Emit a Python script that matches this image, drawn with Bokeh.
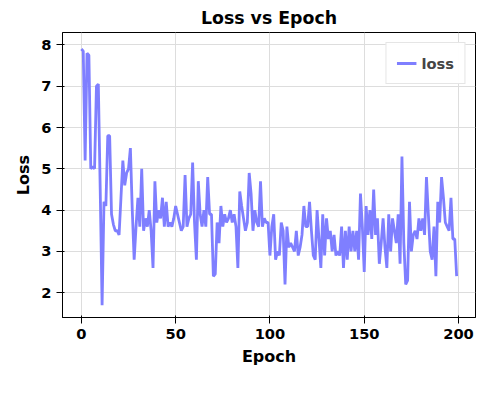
from bokeh.plotting import figure
from bokeh.embed import file_html
from bokeh.resources import INLINE
from bokeh.models import Legend, LegendItem

epochs = list(range(200))
loss = [7.9, 7.85, 5.2, 7.8, 7.75, 5.0, 5.05, 5.0, 7.0, 7.05, 4.5, 1.7, 4.2, 4.1, 5.8, 5.8, 3.9, 3.65, 3.5, 3.5,
        3.4, 4.3, 5.2, 4.6, 4.9, 5.0, 5.5, 4.0, 2.8, 3.6, 4.3, 3.6, 5.0, 3.5, 3.8, 3.6, 4.0, 3.5, 2.6, 4.7,
        3.7, 4.0, 3.8, 4.3, 3.6, 4.2, 3.6, 3.7, 3.6, 3.8, 4.1, 3.9, 3.7, 3.5, 3.6, 4.85, 3.6, 3.8, 3.9, 5.15,
        3.7, 2.8, 4.7, 3.9, 3.6, 4.0, 3.6, 4.8, 3.9, 3.9, 2.4, 2.45, 3.7, 3.2, 4.1, 3.6, 3.9, 3.7, 3.8, 4.0,
        3.7, 3.9, 3.6, 2.6, 4.45, 4.1, 3.8, 3.5, 3.7, 4.9, 4.4, 3.5, 4.0, 3.7, 3.6, 4.7, 3.6, 3.8, 3.7, 3.7,
        2.9, 3.6, 3.9, 2.8, 3.0, 2.9, 3.7, 3.5, 2.2, 3.6, 3.1, 3.2, 3.1, 3.0, 3.5, 2.9, 3.1, 3.4, 4.1, 3.6,
        3.6, 4.2, 3.5, 2.9, 2.8, 4.0, 3.3, 2.6, 3.9, 2.9, 3.8, 3.3, 3.5, 3.0, 3.4, 2.9, 3.0, 2.9, 3.6, 2.6,
        3.5, 2.8, 3.6, 3.0, 3.5, 3.0, 3.5, 2.8, 4.4, 3.6, 2.5, 4.1, 3.4, 4.0, 3.3, 4.5, 3.4, 3.8, 2.7, 3.2,
        3.8, 3.1, 2.6, 3.9, 3.0, 3.8, 3.5, 3.2, 3.9, 2.7, 5.3, 3.2, 2.2, 2.3, 4.2, 3.0, 3.4, 3.5, 3.3, 3.8,
        3.5, 3.8, 3.4, 4.8, 3.9, 3.0, 2.8, 3.6, 2.4, 4.2, 3.7, 4.8, 4.3, 3.7, 3.6, 3.5, 4.3, 3.3, 3.3, 2.4]

p = figure(frame_width=413, frame_height=285, min_border_left=62, min_border_top=32,
           min_border_right=8, min_border_bottom=60,
           output_backend="svg", toolbar_location=None,
           title="Loss vs Epoch", x_range=(-10, 209), y_range=(1.4, 8.3))
p.title.align = "center"
p.title.text_font_size = "13pt"
p.title.text_font = "DejaVu Sans"
p.title.text_font_style = "bold"
p.title.text_color = "black"
r = p.line(epochs, loss, line_color="#7f7fff", line_width=2.8)
p.xaxis.axis_label = "Epoch"
p.yaxis.axis_label = "Loss"
for ax in (p.xaxis, p.yaxis):
    ax.axis_label_text_font = "DejaVu Sans"
    ax.axis_label_text_font_style = "bold"
    ax.axis_label_text_font_size = "12pt"
    ax.axis_label_text_color = "black"
    ax.major_label_text_font = "DejaVu Sans"
    ax.major_label_text_font_style = "bold"
    ax.major_label_text_font_size = "11pt"
    ax.major_label_text_color = "black"
    ax.minor_tick_line_color = None
    ax.axis_line_color = "black"
    ax.major_tick_line_color = "black"
p.xaxis.ticker = [0, 50, 100, 150, 200]
p.yaxis.ticker = [2, 3, 4, 5, 6, 7, 8]
p.grid.grid_line_color = "#dddddd"
p.outline_line_color = "black"
legend = Legend(items=[LegendItem(label="loss", renderers=[r])], location="top_right")
legend.label_text_font = "DejaVu Sans"
legend.label_text_font_style = "bold"
legend.label_text_font_size = "11pt"
legend.border_line_color = "#cccccc"
p.add_layout(legend)
open("out.html", "w").write(file_html(p, INLINE))
